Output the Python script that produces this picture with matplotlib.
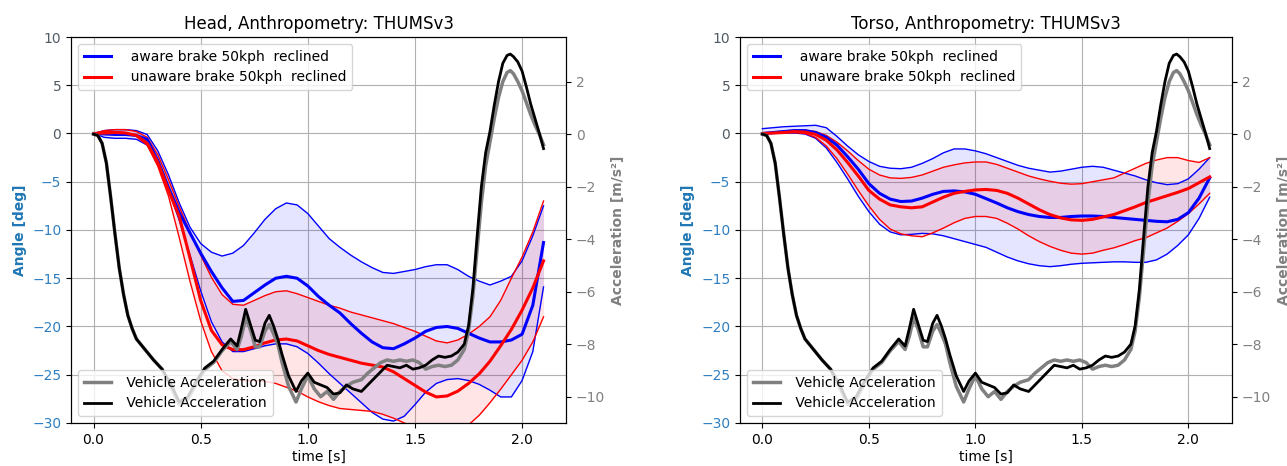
import numpy as np
import matplotlib
matplotlib.use('Agg')
import matplotlib.pyplot as plt

# ---------------- data ----------------
time = [0.00, 0.05, 0.10, 0.15, 0.20, 0.25, 0.30, 0.35, 0.40, 0.45, 0.50,
        0.55, 0.60, 0.65, 0.70, 0.75, 0.80, 0.85, 0.90, 0.95, 1.00, 1.05,
        1.10, 1.15, 1.20, 1.25, 1.30, 1.35, 1.40, 1.45, 1.50, 1.55, 1.60,
        1.65, 1.70, 1.75, 1.80, 1.85, 1.90, 1.95, 2.00, 2.05, 2.10]

# Head
head_aware_mean = [0.0, -0.05, -0.1, -0.1, -0.2, -0.6, -2.8, -5.6, -8.2, -10.3, -12.4,
                   -14.3, -16.0, -17.4, -17.3, -16.5, -15.7, -15.0, -14.8, -15.0, -15.8, -16.9,
                   -17.8, -18.6, -19.7, -20.7, -21.6, -22.2, -22.3, -21.8, -21.2, -20.5, -20.1,
                   -20.0, -20.2, -20.7, -21.2, -21.6, -21.6, -21.4, -20.8, -17.8, -11.3]
head_aware_upper = [0.0, 0.3, 0.4, 0.4, 0.3, -0.1, -1.8, -4.3, -7.2, -9.7, -11.4,
                    -12.3, -12.7, -12.4, -11.6, -10.3, -8.9, -7.8, -7.2, -7.4, -8.3, -9.6,
                    -10.9, -11.8, -12.6, -13.3, -13.9, -14.4, -14.5, -14.3, -14.1, -13.8, -13.6,
                    -13.6, -14.1, -14.8, -15.3, -15.7, -15.3, -14.8, -13.2, -10.6, -7.5]
head_aware_lower = [0.0, -0.4, -0.5, -0.5, -0.6, -1.2, -2.9, -5.8, -9.0, -12.6, -16.3,
                    -19.5, -21.6, -22.6, -22.6, -22.3, -22.0, -21.8, -21.8, -22.1, -22.8, -23.8,
                    -24.9, -25.9, -26.9, -27.9, -28.9, -29.6, -29.8, -29.3, -28.1, -26.8, -25.9,
                    -25.5, -25.4, -25.6, -26.0, -26.6, -27.3, -27.3, -25.6, -22.6, -15.9]
head_unaware_mean = [0.0, 0.05, 0.1, 0.05, -0.2, -1.0, -3.0, -5.9, -8.6, -12.9, -17.3,
                     -20.4, -21.9, -22.4, -22.4, -22.1, -21.7, -21.4, -21.3, -21.5, -22.0, -22.5,
                     -22.9, -23.2, -23.5, -23.8, -24.0, -24.2, -24.7, -25.4, -26.1, -26.8, -27.3,
                     -27.2, -26.7, -25.9, -24.9, -23.6, -22.0, -20.3, -18.3, -16.0, -13.2]
head_unaware_upper = [0.0, 0.3, 0.4, 0.4, 0.2, -0.4, -2.2, -4.8, -7.6, -10.2, -12.6,
                      -14.9, -16.7, -17.7, -17.8, -17.3, -16.8, -16.4, -16.3, -16.6, -17.0, -17.4,
                      -17.8, -18.1, -18.5, -18.8, -19.1, -19.4, -19.7, -20.1, -20.5, -21.0, -21.5,
                      -21.7, -21.4, -20.8, -20.0, -19.0, -17.3, -15.0, -12.8, -10.2, -7.0]
head_unaware_lower = [0.0, 0.2, 0.2, 0.1, -0.3, -1.2, -3.4, -6.5, -10.8, -15.3, -19.4,
                      -22.6, -24.6, -25.4, -25.6, -25.6, -25.7, -25.9, -26.3, -26.7, -27.3, -27.8,
                      -28.2, -28.5, -28.6, -28.7, -28.8, -29.1, -29.5, -30.0, -30.5, -30.9, -31.2,
                      -31.2, -30.9, -30.2, -29.2, -27.9, -26.5, -25.0, -23.5, -21.6, -19.0]

# Torso
torso_aware_mean = [0.0, 0.1, 0.2, 0.3, 0.3, 0.1, -0.4, -1.2, -2.4, -3.7, -5.2,
                    -6.2, -6.8, -7.05, -7.0, -6.7, -6.3, -6.0, -5.95, -6.05, -6.3, -6.75,
                    -7.2, -7.7, -8.1, -8.4, -8.6, -8.7, -8.7, -8.6, -8.55, -8.55, -8.6,
                    -8.7, -8.8, -8.9, -9.0, -9.1, -9.15, -8.9, -8.2, -6.7, -4.6]
torso_aware_upper = [0.5, 0.6, 0.7, 0.75, 0.8, 0.85, 0.6, -0.3, -1.3, -2.2, -2.9,
                     -3.4, -3.6, -3.65, -3.5, -3.1, -2.6, -2.0, -1.6, -1.6, -1.8, -2.1,
                     -2.5, -2.9, -3.3, -3.6, -3.8, -4.0, -3.9, -3.7, -3.5, -3.4, -3.5,
                     -3.8, -4.1, -4.4, -4.8, -5.1, -5.3, -5.2, -4.7, -3.7, -2.5]
torso_aware_lower = [0.0, 0.0, 0.05, 0.05, -0.05, -0.5, -1.5, -3.0, -4.7, -6.5, -8.1,
                     -9.4, -10.2, -10.5, -10.45, -10.35, -10.4, -10.6, -10.9, -11.2, -11.5, -11.8,
                     -12.3, -12.8, -13.2, -13.5, -13.7, -13.8, -13.7, -13.55, -13.45, -13.4, -13.35,
                     -13.3, -13.3, -13.35, -13.35, -13.1, -12.5, -11.6, -10.5, -8.8, -6.6]
torso_unaware_mean = [0.0, 0.05, 0.1, 0.2, 0.15, -0.1, -0.7, -1.7, -3.0, -4.4, -5.9,
                      -6.8, -7.4, -7.6, -7.7, -7.6, -7.1, -6.6, -6.2, -6.0, -5.85, -5.8,
                      -5.9, -6.2, -6.7, -7.3, -7.9, -8.4, -8.75, -8.95, -9.0, -8.9, -8.65,
                      -8.4, -8.0, -7.6, -7.15, -6.8, -6.45, -6.1, -5.7, -5.1, -4.5]
torso_unaware_upper = [0.0, 0.15, 0.25, 0.35, 0.35, 0.2, -0.2, -0.9, -1.8, -2.8, -3.7,
                       -4.3, -4.6, -4.65, -4.55, -4.3, -3.9, -3.5, -3.25, -3.05, -2.95, -2.95,
                       -3.2, -3.6, -4.0, -4.4, -4.7, -4.95, -5.15, -5.25, -5.2, -5.0, -4.8,
                       -4.6, -4.1, -3.6, -3.1, -2.75, -2.5, -2.5, -2.8, -3.0, -2.5]
torso_unaware_lower = [0.0, 0.05, 0.1, 0.1, 0.0, -0.4, -1.3, -2.6, -4.2, -5.9, -7.5,
                       -8.9, -9.9, -10.4, -10.6, -10.7, -10.3, -9.8, -9.25, -8.8, -8.6, -8.6,
                       -8.8, -9.3, -9.9, -10.6, -11.2, -11.7, -12.1, -12.4, -12.5, -12.4, -12.1,
                       -11.85, -11.5, -11.1, -10.8, -10.3, -9.8, -9.1, -8.3, -7.3, -6.2]

# Vehicle acceleration (same in both panels)
acc_time = [0.00, 0.02, 0.04, 0.06, 0.08, 0.10, 0.12, 0.14, 0.16, 0.18, 0.20,
            0.24, 0.28, 0.32, 0.36, 0.40, 0.44, 0.48, 0.52, 0.56, 0.60, 0.64,
            0.67, 0.69, 0.71, 0.73, 0.755, 0.775, 0.80, 0.82, 0.84, 0.86, 0.88,
            0.91, 0.945, 0.97, 1.00, 1.03, 1.06, 1.09, 1.12, 1.15, 1.18, 1.21,
            1.25, 1.28, 1.31, 1.34, 1.37, 1.40, 1.43, 1.46, 1.49, 1.52, 1.55,
            1.58, 1.61, 1.64, 1.67, 1.70, 1.73, 1.75, 1.77, 1.79, 1.81, 1.83,
            1.85, 1.87, 1.89, 1.91, 1.93, 1.945, 1.96, 1.98, 2.00, 2.02, 2.04,
            2.06, 2.08, 2.10]
acc_black = [0.0, -0.05, -0.35, -1.1, -2.4, -3.8, -5.1, -6.1, -6.9, -7.4, -7.8,
             -8.2, -8.6, -8.95, -9.5, -10.2, -10.0, -9.4, -8.9, -8.65, -8.2, -7.8,
             -8.07, -7.4, -6.67, -7.2, -7.85, -7.9, -7.2, -6.9, -7.3, -7.8, -8.4,
             -9.2, -9.8, -9.4, -9.1, -9.45, -9.55, -9.65, -9.9, -9.85, -9.55, -9.7,
             -9.8, -9.55, -9.3, -9.05, -8.8, -8.85, -8.9, -8.8, -8.95, -8.9, -8.8,
             -8.6, -8.45, -8.5, -8.45, -8.3, -8.0, -7.3, -5.9, -3.9, -2.0, -0.7,
             0.1, 1.1, 2.0, 2.7, 3.0, 3.05, 2.95, 2.75, 2.4, 1.8, 1.15,
             0.6, 0.05, -0.55]
acc_gray = [0.0, -0.05, -0.35, -1.1, -2.4, -3.8, -5.1, -6.1, -6.9, -7.4, -7.8,
            -8.2, -8.6, -8.95, -9.6, -10.3, -10.1, -9.5, -8.95, -8.7, -8.25, -7.9,
            -8.2, -7.7, -7.0, -7.4, -8.1, -8.1, -7.5, -7.25, -7.6, -8.0, -8.7,
            -9.6, -10.2, -9.7, -9.2, -9.7, -10.0, -9.8, -10.1, -9.8, -9.6, -9.45,
            -9.35, -9.1, -8.9, -8.7, -8.6, -8.65, -8.6, -8.65, -8.6, -8.7, -8.95,
            -8.85, -8.8, -8.85, -8.8, -8.6, -8.2, -7.5, -6.2, -4.4, -2.6, -1.2,
            -0.3, 0.6, 1.4, 2.0, 2.35, 2.42, 2.3, 2.0, 1.65, 1.2, 0.75,
            0.35, 0.0, -0.4]

titles = ["Head, Anthropometry: THUMSv3", "Torso, Anthropometry: THUMSv3"]
labels = ["  aware brake 50kph  reclined", "  unaware brake 50kph  reclined"]
acc_label = " Vehicle Acceleration"
angle_ticks = [10, 5, 0, -5, -10, -15, -20, -25, -30]

panels = [
    (head_aware_mean, head_aware_lower, head_aware_upper,
     head_unaware_mean, head_unaware_lower, head_unaware_upper),
    (torso_aware_mean, torso_aware_lower, torso_aware_upper,
     torso_unaware_mean, torso_unaware_lower, torso_unaware_upper),
]

# ---------------- figure ----------------
fig = plt.figure(figsize=(12.87, 4.66), dpi=100)
rects = [[0.0552, 0.0923, 0.3846, 0.8283], [0.575, 0.0923, 0.3823, 0.8283]]

for rect, title, data in zip(rects, titles, panels):
    aw, aw_lo, aw_hi, un, un_lo, un_hi = data
    ax = fig.add_axes(rect)
    ax.fill_between(time, aw_lo, aw_hi, color='blue', alpha=0.1, lw=0)
    ax.plot(time, aw_hi, color='blue', lw=1)
    ax.plot(time, aw_lo, color='blue', lw=1)
    ax.fill_between(time, un_lo, un_hi, color='red', alpha=0.1, lw=0)
    ax.plot(time, un_hi, color='red', lw=1)
    ax.plot(time, un_lo, color='red', lw=1)
    ax.plot(time, aw, color='blue', lw=2.2, label=labels[0])
    ax.plot(time, un, color='red', lw=2.2, label=labels[1])
    ax.set_ylim(-30, 10)
    ax.set_yticks(angle_ticks)
    ax.grid(True, color='#b0b0b0', lw=0.8)
    ax.set_axisbelow(True)
    ax.set_xlabel('time [s]', labelpad=2)
    ax.set_ylabel('Angle [deg]', color='tab:blue', fontweight='bold')
    for lab, v in zip(ax.get_yticklabels(), angle_ticks):
        lab.set_color('#505a64' if v >= 0 else '#2f7fc1')
    ax.set_title(title, fontsize=12)
    ax.legend(loc='upper left')

    ax2 = ax.twinx()
    ax2.plot(acc_time, acc_gray, color='gray', lw=2.5, label=acc_label)
    ax2.plot(acc_time, acc_black, color='black', lw=2, label=acc_label)
    ax2.set_ylim(-11.0, 3.7)
    ax2.set_yticks([2, 0, -2, -4, -6, -8, -10])
    ax2.set_ylabel('Acceleration [m/s²]', color='gray', fontweight='bold')
    ax2.tick_params(axis='y', labelcolor='gray')
    ax2.legend(loc='lower left')
    ax.set_xlim(-0.105, 2.205)

fig.savefig('out.png', dpi=100)
